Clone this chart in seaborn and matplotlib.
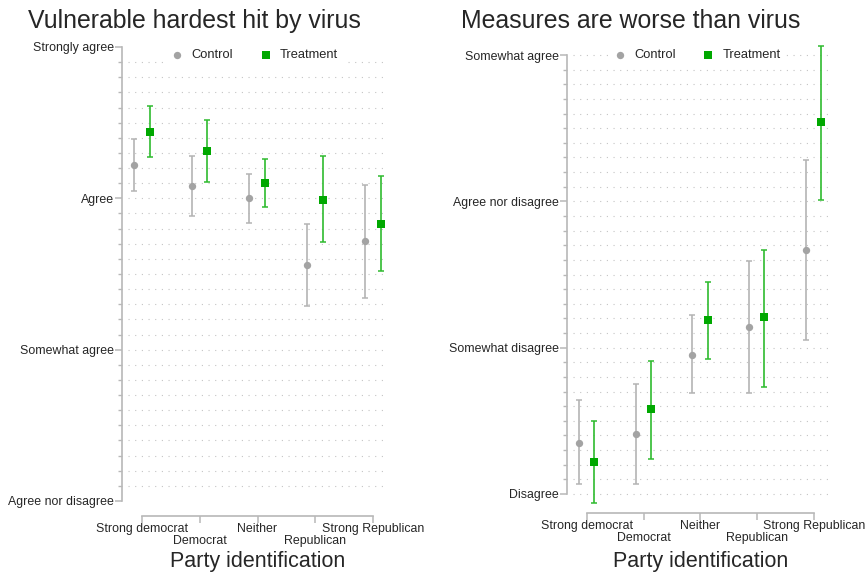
import numpy as np
import pandas as pd
import matplotlib
matplotlib.use("Agg")
import matplotlib.pyplot as plt
import matplotlib.transforms as mtransforms
import seaborn as sns
from matplotlib.ticker import FixedLocator

party = ["Strong democrat", "Democrat", "Neither", "Republican", "Strong Republican"]
groups = ["Control", "Treatment"]

# panel 1: Vulnerable hardest hit by virus (4 = agree nor disagree ... 7 = strongly agree)
vuln_ctrl    = [6.22, 6.08, 6.00, 5.56, 5.72]
vuln_ctrl_lo = [6.05, 5.88, 5.84, 5.29, 5.34]
vuln_ctrl_hi = [6.39, 6.28, 6.16, 5.83, 6.09]
vuln_trt     = [6.44, 6.31, 6.10, 5.99, 5.83]
vuln_trt_lo  = [6.27, 6.11, 5.94, 5.71, 5.52]
vuln_trt_hi  = [6.61, 6.52, 6.26, 6.28, 6.15]
vuln_ticks   = [4, 5, 6, 7]
vuln_labels  = ["Agree nor disagree", "Somewhat agree", "Agree", "Strongly agree"]

# panel 2: Measures are worse than virus (2 = disagree ... 5 = somewhat agree)
meas_ctrl    = [2.35, 2.41, 2.95, 3.14, 3.67]
meas_ctrl_lo = [2.07, 2.07, 2.69, 2.69, 3.05]
meas_ctrl_hi = [2.64, 2.75, 3.22, 3.59, 4.28]
meas_trt     = [2.22, 2.58, 3.19, 3.21, 4.54]
meas_trt_lo  = [1.94, 2.24, 2.92, 2.73, 4.01]
meas_trt_hi  = [2.50, 2.91, 3.45, 3.67, 5.06]
meas_ticks   = [2, 3, 4, 5]
meas_labels  = ["Disagree", "Somewhat disagree", "Agree nor disagree", "Somewhat agree"]

MARKER_COL = {"Control": "#a3a3a3", "Treatment": "#00a800"}
CI_COL     = {"Control": "#b4b4b4", "Treatment": "#2fbb2f"}
MARKERS    = {"Control": "o", "Treatment": "s"}
SIZES      = {"Control": 28, "Treatment": 40}
OFFSET     = {"Control": -0.14, "Treatment": 0.13}
AXCOL = "#b8b8b8"
GRIDCOL = "#c4c4c4"

W, H = 865, 575

sns.set_theme(style="white")
plt.rcParams["font.family"] = ["Liberation Sans", "DejaVu Sans"]


def make_frame(ctrl, ctrl_lo, ctrl_hi, trt, trt_lo, trt_hi):
    rows = []
    for g, m, lo, hi in [("Control", ctrl, ctrl_lo, ctrl_hi),
                         ("Treatment", trt, trt_lo, trt_hi)]:
        for i, p in enumerate(party):
            rows.append({"party": p, "idx": i, "group": g,
                         "mean": m[i], "lo": lo[i], "hi": hi[i]})
    df = pd.DataFrame(rows)
    df["pos"] = df["idx"] + df["group"].map(OFFSET)
    return df


def draw_panel(ax, df, ticks, labels, ylim, title, title_x, leg_y, xgap, xlab_y):
    ax.set_ylim(*ylim)
    ax.set_xlim(-0.25, 4.25)

    # dotted grid at every tenth, only inside the plot region
    tenths = np.round(np.arange(ticks[0], ticks[-1] + 0.001, 0.1), 1)
    ax.yaxis.set_minor_locator(FixedLocator(tenths))
    inside = tenths[(tenths > ylim[0]) & (tenths < ylim[1])]
    ax.hlines(inside, -0.25, 4.25, colors=GRIDCOL, linestyles=[(0, (1, 5))],
              linewidth=0.8, zorder=0)

    for g in groups:
        d = df[df["group"] == g]
        ax.errorbar(d["pos"], d["mean"], yerr=[d["mean"] - d["lo"], d["hi"] - d["mean"]],
                    fmt="none", ecolor=CI_COL[g], elinewidth=1.2, capsize=2.4,
                    capthick=1.1, zorder=2)
        sns.scatterplot(data=d, x="pos", y="mean", color=MARKER_COL[g], marker=MARKERS[g],
                        s=SIZES[g], linewidth=0, label=g, ax=ax, zorder=3)

    ax.set_yticks(ticks)
    ax.set_yticklabels(labels)
    ax.set_xticks(range(len(party)))
    ax.set_xticklabels(party)
    ax.set_xlabel("Party identification", fontsize=15.5, va="center")
    ax.xaxis.set_label_coords(0.5, xlab_y)
    ax.set_ylabel("")

    for s in ["top", "right"]:
        ax.spines[s].set_visible(False)
    ax.spines["left"].set_bounds(ticks[0], ticks[-1])
    ax.spines["bottom"].set_bounds(0, len(party) - 1)
    ax.spines["left"].set_position(("outward", 4))
    ax.spines["bottom"].set_position(("outward", xgap))
    for s in ["left", "bottom"]:
        ax.spines[s].set_color(AXCOL)
        ax.spines[s].set_linewidth(1.2)

    ax.tick_params(axis="y", which="major", length=5, width=1.1, color=AXCOL,
                   labelsize=8.9, pad=1, left=True)
    ax.tick_params(axis="y", which="minor", length=3, width=1.0, color=AXCOL, left=True)
    ax.tick_params(axis="x", which="major", length=5, width=1.1, color=AXCOL,
                   labelsize=8.9, pad=0, bottom=True)

    # staggered category labels: every second one on a lower row
    shift = mtransforms.ScaledTranslation(0, -12 / 100, ax.figure.dpi_scale_trans)
    for i, t in enumerate(ax.get_xticklabels()):
        if i % 2 == 1:
            t.set_transform(t.get_transform() + shift)

    leg = ax.legend(loc="center", bbox_to_anchor=(0.49, leg_y), ncol=2, frameon=True,
                    fontsize=9.3, handlelength=0.8, handletextpad=0.7,
                    columnspacing=2.15, borderpad=0.3, borderaxespad=0)
    leg.get_frame().set_facecolor("white")
    leg.get_frame().set_edgecolor("white")
    leg.get_frame().set_alpha(1)

    ax.figure.text(title_x / W, 1 - 28 / H, title, fontsize=17.9, ha="left", va="baseline")


fig = plt.figure(figsize=(W / 100, H / 100), dpi=100)

# left panel: y 7 at px 47, 4 at px 501; ticks x 142..373
ax1 = fig.add_axes([127.6 / W, (H - 501) / H, 259.9 / W, 454 / H])
draw_panel(ax1, make_frame(vuln_ctrl, vuln_ctrl_lo, vuln_ctrl_hi,
                           vuln_trt, vuln_trt_lo, vuln_trt_hi),
           vuln_ticks, vuln_labels, (4, 7), "Vulnerable hardest hit by virus", 28,
           (501 - 55) / 454, 11, (501 - 561.5) / 454)

# right panel: y 5 at px 55, 2 at px 494; ticks x 586.7..814
ax2 = fig.add_axes([572.5 / W, (H - 508.6) / H, 255.6 / W, 468.2 / H])
draw_panel(ax2, make_frame(meas_ctrl, meas_ctrl_lo, meas_ctrl_hi,
                           meas_trt, meas_trt_lo, meas_trt_hi),
           meas_ticks, meas_labels, (1.9, 5.1), "Measures are worse than virus", 461,
           (508.6 - 55) / 468.2, 3, (508.6 - 561.5) / 468.2)

fig.savefig("out.png", dpi=100)
